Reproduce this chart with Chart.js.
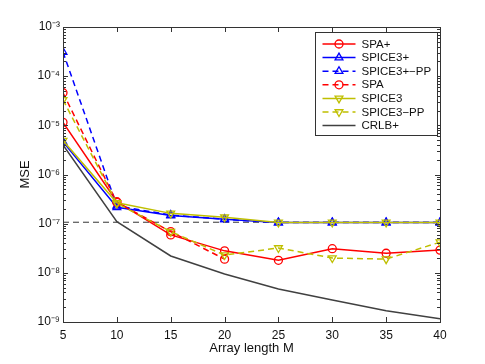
<!DOCTYPE html>
<html>
<head>
<meta charset="utf-8">
<script src="https://cdn.jsdelivr.net/npm/chart.js@4/dist/chart.umd.min.js"></script>
<style>
  body { margin: 0; background: #fff; }
</style>
</head>
<body>
<canvas id="myChart" width="485" height="364"></canvas>
<script>
// array lengths on the x axis
var M = [5, 10, 15, 20, 25, 30, 35, 40];

// MSE per method (null = not computed)
var spaPlus    = [1.15e-5, 2.8e-7, 5.9e-8, 2.8e-8, 1.8e-8, 3.1e-8, 2.5e-8, 2.9e-8];
var spice3Plus = [4.6e-6, 2.15e-7, 1.46e-7, 1.23e-7, 1.05e-7, 1.05e-7, 1.05e-7, 1.05e-7];
var spice3PlusPP = [3.1e-4, 2.3e-7, 1.5e-7, 1.23e-7, 1.05e-7, 1.05e-7, 1.05e-7, 1.05e-7];
var spa        = [4.6e-5, 2.7e-7, 6.9e-8, 1.9e-8, null, null, null, null];
var spice3     = [4.9e-6, 2.65e-7, 1.62e-7, 1.35e-7, 1.06e-7, 1.06e-7, 1.06e-7, 1.06e-7];
var spice3PP   = [3.3e-5, 2.6e-7, 6.9e-8, 2.3e-8, 3.2e-8, 2.0e-8, 1.9e-8, 4.2e-8];
var crlbPlus   = [4.0e-6, 1.1e-7, 2.2e-8, 9.5e-9, 4.7e-9, 2.8e-9, 1.7e-9, 1.17e-9];

// horizontal reference level
var refLevel = 1.07e-7;

var yTickLabels = ['10\u207B\u00B3', '10\u207B\u2074', '10\u207B\u2075', '10\u207B\u2076', '10\u207B\u2077', '10\u207B\u2078', '10\u207B\u2079'];
var yDecades = [1e-3, 1e-4, 1e-5, 1e-6, 1e-7, 1e-8, 1e-9];

var RED = '#ff0000', BLUE = '#0000ff', YEL = '#bfbf00', GRAY = '#404040';
var FONT = "'Liberation Sans', Arial, sans-serif";

function pts(arr) {
	var out = [];
	for (var i = 0; i < M.length; i++) {
		if (arr[i] !== null) out.push({ x: M[i], y: arr[i] });
	}
	return out;
}

function series(label, arr, color, dash, style, rot, order) {
	return {
		label: label,
		data: pts(arr),
		borderColor: color,
		borderWidth: 1.5,
		borderDash: dash,
		pointStyle: style,
		pointRadius: style ? (style === 'circle' ? 4 : 4.5) : 0,
		pointRotation: rot,
		pointBorderColor: color,
		pointBackgroundColor: 'rgba(0,0,0,0)',
		pointBorderWidth: 1.3,
		tension: 0,
		order: order,
		inLegend: true
	};
}

var datasets = [
	{
		label: 'ref',
		data: [{ x: M[0], y: refLevel }, { x: M[M.length - 1], y: refLevel }],
		borderColor: '#333',
		borderWidth: 1,
		borderDash: [6, 4],
		pointRadius: 0,
		order: 9,
		inLegend: false
	},
	series('SPA+', spaPlus, RED, [], 'circle', 0, 7),
	series('SPICE3+', spice3Plus, BLUE, [], 'triangle', 0, 6),
	series('SPICE3+\u2212PP', spice3PlusPP, BLUE, [6, 4], 'triangle', 0, 5),
	series('SPA', spa, RED, [6, 4], 'circle', 0, 4),
	series('SPICE3', spice3, YEL, [], 'triangle', 180, 3),
	series('SPICE3\u2212PP', spice3PP, YEL, [6, 4], 'triangle', 180, 2),
	series('CRLB+', crlbPlus, GRAY, [], false, 0, 1)
];

// axes box, inward major/minor ticks
var boxPlugin = {
	id: 'box',
	afterDatasetsDraw: function (chart) {
		var ctx = chart.ctx, a = chart.chartArea;
		var xs = chart.scales.x, ys = chart.scales.y;
		ctx.save();
		ctx.strokeStyle = '#333';
		ctx.lineWidth = 1;
		ctx.setLineDash([]);
		ctx.strokeRect(Math.round(a.left) + 0.5, Math.round(a.top) + 0.5, Math.round(a.right - a.left), Math.round(a.bottom - a.top));
		ctx.beginPath();
		M.forEach(function (m) {
			var px = Math.round(xs.getPixelForValue(m)) + 0.5;
			ctx.moveTo(px, a.bottom); ctx.lineTo(px, a.bottom - 5);
			ctx.moveTo(px, a.top); ctx.lineTo(px, a.top + 5);
		});
		for (var e = -9; e <= -3; e++) {
			for (var k = 1; k <= 9; k++) {
				if (e === -3 && k > 1) break;
				var v = k * Math.pow(10, e);
				var py = Math.round(ys.getPixelForValue(v)) + 0.5;
				var len = k === 1 ? 5 : 3;
				ctx.moveTo(a.left, py); ctx.lineTo(a.left + len, py);
				ctx.moveTo(a.right, py); ctx.lineTo(a.right - len, py);
			}
		}
		ctx.stroke();
		ctx.restore();
	}
};

// legend box in the top right corner of the axes
var legendPlugin = {
	id: 'matLegend',
	afterDraw: function (chart) {
		var ctx = chart.ctx, a = chart.chartArea;
		var items = chart.data.datasets.filter(function (d) { return d.inLegend; });
		var w = 122, h = 103;
		var bx = Math.round(a.right - 125) + 0.5, by = Math.round(a.top + 5) + 0.5;
		ctx.save();
		ctx.fillStyle = '#fff';
		ctx.fillRect(bx, by, w, h);
		ctx.strokeStyle = '#333';
		ctx.lineWidth = 1;
		ctx.strokeRect(bx, by, w, h);
		ctx.font = '11.5px ' + FONT;
		ctx.textBaseline = 'middle';
		items.forEach(function (d, i) {
			var y = by + 11.5 + i * 13.6;
			ctx.strokeStyle = d.borderColor;
			ctx.lineWidth = d.borderWidth;
			ctx.setLineDash(d.borderDash || []);
			ctx.beginPath();
			ctx.moveTo(bx + 7, y);
			ctx.lineTo(bx + 40, y);
			ctx.stroke();
			ctx.setLineDash([]);
			if (d.pointStyle) {
				ctx.fillStyle = 'rgba(0,0,0,0)';
				ctx.lineWidth = d.pointBorderWidth;
				Chart.helpers.drawPoint(ctx, {
					pointStyle: d.pointStyle,
					radius: d.pointRadius,
					rotation: d.pointRotation,
					borderWidth: d.pointBorderWidth
				}, bx + 23.5, y);
			}
			ctx.fillStyle = '#111';
			ctx.fillText(d.label, bx + 46, y + 0.5);
		});
		ctx.restore();
	}
};

var ctx = document.getElementById('myChart');
new Chart(ctx, {
	type: 'line',
	data: { datasets: datasets },
	options: {
		responsive: false,
		animation: false,
		layout: { padding: { top: 27, right: 45, left: 0, bottom: 0 } },
		plugins: {
			legend: { display: false },
			tooltip: { enabled: false }
		},
		scales: {
			x: {
				type: 'linear',
				min: 5,
				max: 40,
				grid: { display: false, drawTicks: false },
				border: { display: false },
				ticks: {
					stepSize: 5,
					padding: 6,
					color: '#111',
					font: { family: FONT, size: 12 }
				},
				title: {
					display: true,
					text: 'Array length M',
					color: '#111',
					font: { family: FONT, size: 13 },
					padding: { top: 0, bottom: 8 }
				},
				afterFit: function (scale) { scale.height = 42; }
			},
			y: {
				type: 'logarithmic',
				min: 1e-9,
				max: 1e-3,
				grid: { display: false, drawTicks: false },
				border: { display: false },
				afterBuildTicks: function (scale) {
					scale.ticks = yDecades.map(function (v) { return { value: v }; });
				},
				ticks: {
					autoSkip: false,
					padding: 3,
					color: '#111',
					font: { family: FONT, size: 12 },
					callback: function (value) {
						var idx = yDecades.indexOf(value);
						return idx >= 0 ? yTickLabels[idx] : '';
					}
				},
				title: {
					display: true,
					text: 'MSE',
					color: '#111',
					font: { family: FONT, size: 13 },
					padding: { top: 18, bottom: 0 }
				},
				afterFit: function (scale) { scale.width = 63; }
			}
		}
	},
	plugins: [boxPlugin, legendPlugin]
});
</script>
</body>
</html>
